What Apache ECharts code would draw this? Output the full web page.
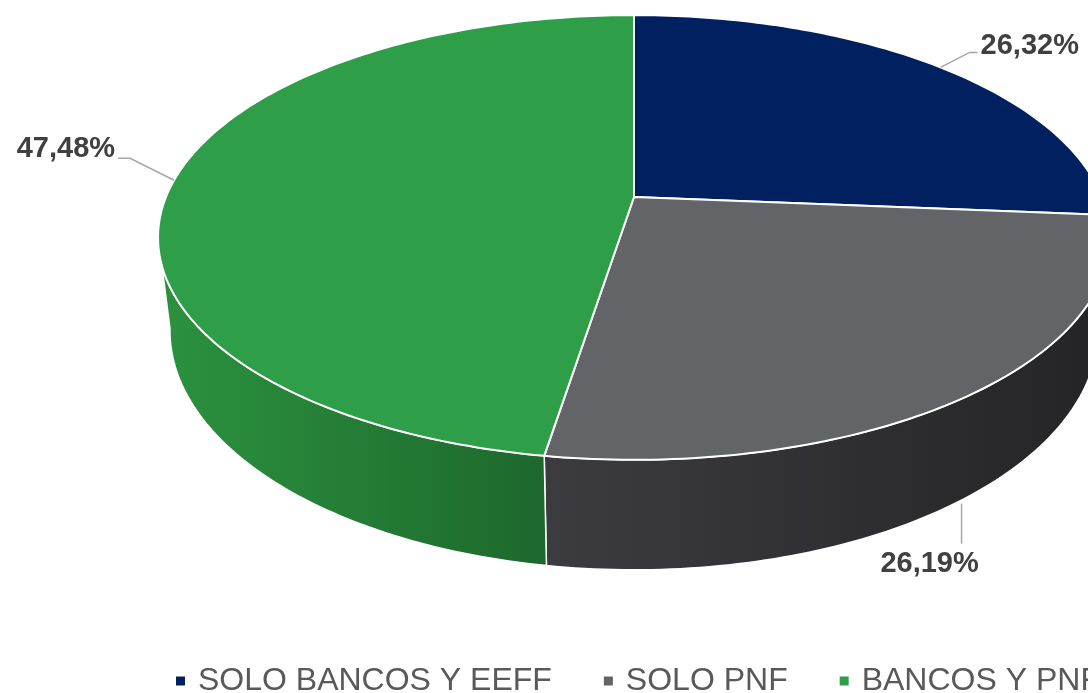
<!DOCTYPE html>
<html>
<head>
<meta charset="utf-8">
<style>
  html, body { margin: 0; padding: 0; background: #fff; }
  #main { width: 1088px; height: 693px; }
</style>
<script src="https://cdn.jsdelivr.net/npm/echarts@6/dist/echarts.min.js"></script>
</head>
<body>
<div id="main"></div>
<script>
var chartDom = document.getElementById('main');
var myChart = echarts.init(chartDom);

// data
const categories = ['SOLO BANCOS Y EEFF', 'SOLO PNF', 'BANCOS Y PNF'];
const values = [26.32, 26.19, 47.48];

const topColors = ['#002060', '#636468', '#2e9f48'];
const wallColors = [['#001a4d', '#001233'], ['#3c3b40', '#242426'], ['#2b923f', '#1d682c']];

// geometry of the tilted pie (perspective ellipse)
const cx = 634, cy = 197;
const A = 468, B = 215, K = 0.182, H = 90, S = 0.975;

function proj(theta, bottom) {
  var u = Math.sin(theta), v = -Math.cos(theta);
  var d = 1 - K * v;
  var x = cx + A * u / d, y = cy + B * v / d;
  if (bottom) {
    x = cx + S * (x - cx);
    y = y + H / d;
  }
  return [x, y];
}

var total = values.reduce(function (a, b) { return a + b; }, 0);
var starts = [], ends = [];
var acc = 0;
for (var i = 0; i < values.length; i++) {
  starts.push(acc / total * Math.PI * 2);
  acc += values[i];
  ends.push(acc / total * Math.PI * 2);
}

function arc(a0, a1, bottom) {
  var pts = [];
  var n = Math.max(2, Math.ceil(Math.abs(a1 - a0) / (Math.PI / 180)));
  for (var j = 0; j <= n; j++) {
    pts.push(proj(a0 + (a1 - a0) * j / n, bottom));
  }
  return pts;
}

// front part of the rim, the only side that shows
const frontMin = 100 / 180 * Math.PI, frontMax = 260 / 180 * Math.PI;

// label leader offsets per slice
const labelCfg = [
  { elbow: [29, -15], end: [37, -15], text: [40, -21], align: 'left', wall: false },
  { elbow: [-1, 44], end: [-1, 44], text: [-33, 64], align: 'center', wall: true, start: [-1, 4] },
  { elbow: [-44, -22], end: [-56, -22], text: [-59, -31], align: 'right', wall: false }
];

function fmt(v) {
  return v.toFixed(2).replace('.', ',') + '%';
}

function renderTop(idx) {
  return function (params, api) {
    var pts = [[cx, cy]].concat(arc(starts[idx], ends[idx], false));
    var mid = (starts[idx] + ends[idx]) / 2;
    var cfg = labelCfg[idx];
    var anchor = proj(mid, cfg.wall);
    var s = cfg.start || [0, 0];
    var line = [
      [anchor[0] + s[0], anchor[1] + s[1]],
      [anchor[0] + cfg.elbow[0], anchor[1] + cfg.elbow[1]],
      [anchor[0] + cfg.end[0], anchor[1] + cfg.end[1]]
    ];
    return {
      type: 'group',
      children: [
        {
          type: 'polygon',
          shape: { points: pts },
          style: { fill: topColors[idx], stroke: '#ffffff', lineWidth: 2, lineJoin: 'round' }
        },
        {
          type: 'polyline',
          shape: { points: line },
          style: { stroke: '#a6a6a6', lineWidth: 1.5, fill: null }
        },
        {
          type: 'text',
          style: {
            text: fmt(values[idx]),
            x: anchor[0] + cfg.text[0],
            y: anchor[1] + cfg.text[1],
            align: cfg.align,
            verticalAlign: 'middle',
            fill: '#404040',
            fontSize: 29,
            fontWeight: 'bold',
            fontFamily: 'Liberation Sans, Arial, sans-serif'
          }
        }
      ]
    };
  };
}

function renderWalls(params, api) {
  var children = [];
  for (var i = 0; i < values.length; i++) {
    var a0 = Math.max(starts[i], frontMin), a1 = Math.min(ends[i], frontMax);
    if (a1 <= a0) continue;
    var topArc = arc(a0, a1, false);
    var botArc = arc(a0, a1, true).reverse();
    children.push({
      type: 'polygon',
      shape: { points: topArc.concat(botArc) },
      style: {
        fill: new echarts.graphic.LinearGradient(0, 0, 1, 0, [
          { offset: 0, color: wallColors[i][0] },
          { offset: 1, color: wallColors[i][1] }
        ]),
        stroke: '#ffffff',
        lineWidth: 1.5,
        lineJoin: 'round'
      }
    });
  }
  return { type: 'group', children: children };
}

var series = [{
  type: 'custom',
  name: 'walls',
  coordinateSystem: 'none',
  silent: true,
  z: 1,
  data: [[0]],
  renderItem: renderWalls
}];
for (var i = 0; i < categories.length; i++) {
  series.push({
    type: 'custom',
    name: categories[i],
    coordinateSystem: 'none',
    z: 2,
    itemStyle: { color: topColors[i] },
    data: [[values[i]]],
    renderItem: renderTop(i)
  });
}

var option = {
  animation: false,
  legend: {
    data: categories,
    left: 176,
    top: 665,
    width: 2000,
    padding: 0,
    icon: 'rect',
    itemWidth: 9,
    itemHeight: 9,
    itemGap: 52,
    textStyle: {
      fontSize: 32,
      color: '#595959',
      fontFamily: 'Liberation Sans, Arial, sans-serif',
      padding: [0, 0, 0, 8]
    }
  },
  series: series
};

option && myChart.setOption(option);
</script>
</body>
</html>
